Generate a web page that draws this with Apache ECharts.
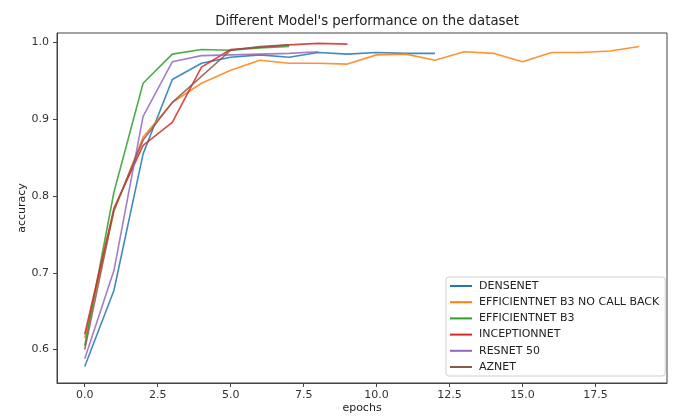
<!DOCTYPE html>
<html>
<head>
<meta charset="utf-8">
<script src="https://cdn.jsdelivr.net/npm/echarts@6/dist/echarts.min.js"></script>
<style>html,body{margin:0;padding:0;background:#fff}#c{width:674px;height:419px}</style>
</head>
<body>
<div id="c"></div>
<script>
const seriesNames = ["DENSENET", "EFFICIENTNET B3 NO CALL BACK", "EFFICIENTNET B3", "INCEPTIONNET", "RESNET 50", "AZNET"];
const densenet = [0.578, 0.677, 0.855, 0.952, 0.973, 0.981, 0.984, 0.981, 0.987, 0.985, 0.987, 0.986, 0.986];
const effNoCallback = [0.615, 0.780, 0.877, 0.922, 0.947, 0.964, 0.977, 0.973, 0.973, 0.972, 0.984, 0.985, 0.977, 0.988, 0.986, 0.975, 0.987, 0.987, 0.989, 0.995];
const effB3 = [0.605, 0.805, 0.947, 0.985, 0.991, 0.990, 0.993, 0.995];
const inception = [0.620, 0.784, 0.866, 0.896, 0.968, 0.991, 0.994, 0.997, 0.999, 0.998];
const resnet50 = [0.588, 0.703, 0.904, 0.975, 0.983, 0.984, 0.985, 0.986, 0.988];
const aznet = [0.600, 0.782, 0.873, 0.922, 0.956, 0.990, 0.995, 0.997];
const xTicks = [0, 2.5, 5, 7.5, 10, 12.5, 15, 17.5];
const yTicks = [0.6, 0.7, 0.8, 0.9, 1.0];
const colors = ["#1f77b4", "#ff7f0e", "#2ca02c", "#d62728", "#9467bd", "#8c564b"];
const allSeries = [densenet, effNoCallback, effB3, inception, resnet50, aznet];

const font = "DejaVu Sans";
const chart = echarts.init(document.getElementById('c'), null, {renderer: 'canvas'});
chart.setOption({
  animation: false,
  backgroundColor: '#fff',
  color: colors,
  title: {
    text: "Different Model's performance on the dataset",
    left: 362, top: 10, textAlign: 'center',
    textStyle: {fontFamily: font, fontSize: 13.3, fontWeight: 'normal', color: '#222'}
  },
  grid: {left: 57, right: 7, top: 33, bottom: 36, show: true, borderColor: '#444', borderWidth: 1, backgroundColor: 'transparent'},
  legend: {
    orient: 'vertical', left: 446, top: 277,
    icon: 'rect', itemWidth: 22, itemHeight: 2, itemGap: 0.2,
    padding: [1, 6, 1, 4],
    backgroundColor: '#fff', borderColor: '#d0d0d0', borderWidth: 1, borderRadius: 3,
    textStyle: {fontFamily: font, fontSize: 11, color: '#222', lineHeight: 16, padding: [0, 0, 0, 2]},
    data: seriesNames
  },
  xAxis: {
    type: 'value', min: -0.95, max: 19.95,
    name: 'epochs', nameLocation: 'middle', nameGap: 20, nameMoveOverlap: false,
    nameTextStyle: {fontFamily: font, fontSize: 11, color: '#222'},
    axisLine: {show: true, onZero: false, lineStyle: {color: '#444'}},
    axisTick: {show: true, inside: false, length: 4, lineStyle: {color: '#444'}, customValues: xTicks},
    axisLabel: {fontFamily: font, fontSize: 11, color: '#333', margin: 7, customValues: xTicks,
      formatter: v => v.toFixed(1)},
    splitLine: {show: false}
  },
  yAxis: {
    type: 'value', min: 0.5565, max: 1.0125,
    name: 'accuracy', nameLocation: 'middle', nameGap: 29, nameRotate: 90, nameMoveOverlap: false,
    nameTextStyle: {fontFamily: font, fontSize: 11, color: '#222'},
    axisLine: {show: true, onZero: false, lineStyle: {color: '#444'}},
    axisTick: {show: true, inside: false, length: 4, lineStyle: {color: '#444'}, customValues: yTicks},
    axisLabel: {fontFamily: font, fontSize: 11, color: '#333', margin: 8, customValues: yTicks,
      formatter: v => v.toFixed(1)},
    splitLine: {show: false}
  },
  series: seriesNames.map((name, k) => ({
    name: name, type: 'line', symbol: 'none', smooth: false,
    lineStyle: {width: 1.6, color: colors[k], opacity: 0.85},
    itemStyle: {color: colors[k]},
    data: allSeries[k].map((v, i) => [i, v])
  }))
});
</script>
</body>
</html>
